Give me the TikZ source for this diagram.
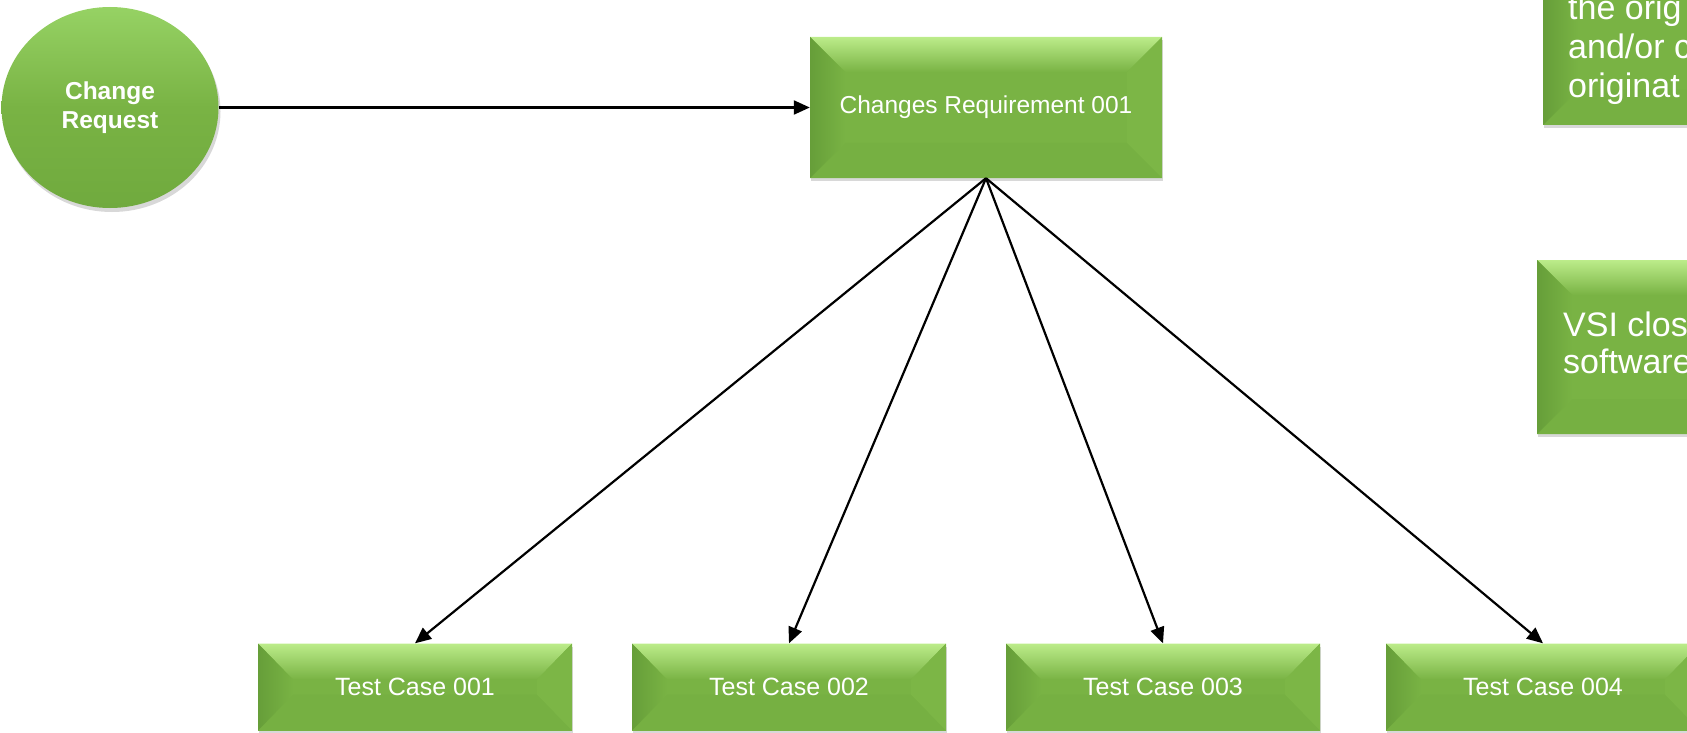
\documentclass[tikz,border=0pt]{standalone}
\usepackage{fontspec}
\setmainfont{Liberation Sans}
\usetikzlibrary{arrows.meta,calc,shadows,shapes.geometric}
\definecolor{bvbase}{RGB}{121,179,68}
\definecolor{bvtop}{RGB}{188,236,138}
\definecolor{bvleft}{RGB}{102,158,57}
\definecolor{bvright}{RGB}{124,182,70}
\definecolor{bvbottom}{RGB}{118,176,66}
\definecolor{crtop}{RGB}{150,210,100}
\definecolor{crbot}{RGB}{112,170,62}
\newcommand\bevelfaces[1]{%
  \coordinate (bNW) at (path picture bounding box.north west);
  \coordinate (bNE) at (path picture bounding box.north east);
  \coordinate (bSE) at (path picture bounding box.south east);
  \coordinate (bSW) at (path picture bounding box.south west);
  \coordinate (iNW) at ($(bNW)+(35pt,-#1)$);
  \coordinate (iNE) at ($(bNE)+(-35pt,-#1)$);
  \coordinate (iSE) at ($(bSE)+(-35pt,#1)$);
  \coordinate (iSW) at ($(bSW)+(35pt,#1)$);
  \fill[bvbase] (bNW) rectangle (bSE);
  \fill[bvbottom] (bSW) -- (iSW) -- (iSE) -- (bSE) -- cycle;
  \shade[top color=bvtop, bottom color=bvbase] (bNW) -- (bNE) -- (iNE) -- (iNW) -- cycle;
  \shade[left color=bvleft, right color=bvbase] (bNW) -- (iNW) -- (iSW) -- (bSW) -- cycle;
  \fill[bvright] (bNE) -- (bSE) -- (iSE) -- (iNE) -- cycle;
}
\tikzset{
  bevbox/.style={rectangle, inner sep=0pt, text=white,
    font=\fontsize{24.5}{29}\selectfont,
    drop shadow={shadow xshift=1pt, shadow yshift=-3pt, opacity=0.22, fill=black!70},
    path picture={\bevelfaces{#1}}},
  testbox/.style={bevbox=36pt, minimum width=314pt, minimum height=87pt,
    font=\fontsize{25}{29}\selectfont},
  crcircle/.style={ellipse, minimum width=217pt, minimum height=201pt, inner sep=0pt, text=white,
    top color=crtop, bottom color=crbot, middle color=bvbase,
    align=center, font=\fontsize{24.5}{29}\selectfont\bfseries,
    drop shadow={shadow xshift=2pt, shadow yshift=-4pt, opacity=0.22, fill=black!70}},
  sidetext/.style={anchor=base west, inner sep=0pt, text=white, align=left,
    font=\fontsize{34}{39}\selectfont},
  conn/.style={line width=2.2pt, draw=black, -{Triangle[length=16pt,width=14pt]}}
}
\begin{document}
\begin{tikzpicture}[x=1pt,y=-1pt]
\useasboundingbox (0,0) rectangle (1687,733);
\clip (0,0) rectangle (1687,733);
% ellipse
\node[crcircle] (cr) at (110,107.5) {Change\\Request};
% main requirement box
\node[bevbox=35pt, minimum width=352pt, minimum height=141pt] (req) at (986,107.5) {Changes Requirement 001};
% test cases
\node[testbox] (tc1) at (415,687) {Test Case 001};
\node[testbox] (tc2) at (789,687) {Test Case 002};
\node[testbox] (tc3) at (1163,687) {Test Case 003};
\node[testbox] (tc4) at (1543,687) {Test Case 004};
% right side boxes (cut off by the page edge)
\node[bevbox=35pt, minimum width=357pt, minimum height=185pt] (side1) at (1721.5,32.5) {};
\node[sidetext] (side1t) at (1568,98) {the orig\\and/or c\\originat};
\node[bevbox=35pt, minimum width=363pt, minimum height=174pt] (side2) at (1718.5,347) {};
\node[sidetext, font=\fontsize{34}{37}\selectfont] (side2t) at (1563,373) {VSI clos\\software};
% connectors
\draw[conn] (cr.east) -- (req.west);
\draw[conn] (req.south) -- (tc1.north);
\draw[conn] (req.south) -- (tc2.north);
\draw[conn] (req.south) -- (tc3.north);
\draw[conn] (req.south) -- (tc4.north);
\end{tikzpicture}
\end{document}
